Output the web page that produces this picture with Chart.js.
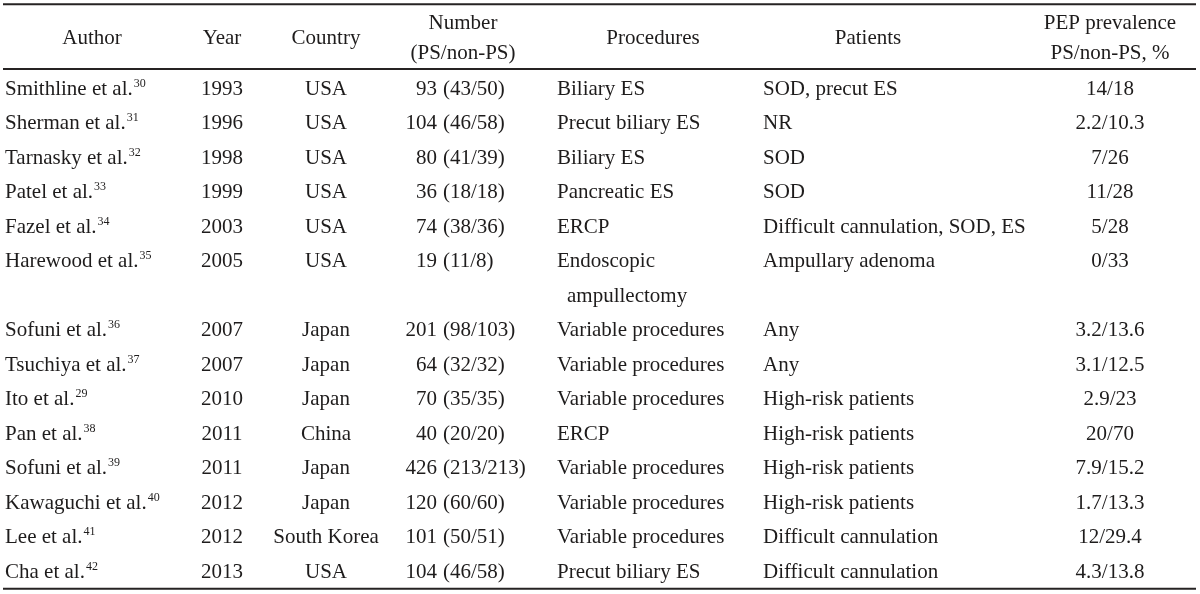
<!DOCTYPE html>
<html>
<head>
<meta charset="utf-8">
<script src="https://cdn.jsdelivr.net/npm/chart.js@4.4.0/dist/chart.umd.min.js"></script>
<style>
  html, body { margin: 0; padding: 0; background: #fff; }
  #wrap { width: 1200px; height: 594px; }
</style>
</head>
<body>
<div id="wrap"><canvas id="tbl" width="1200" height="594"></canvas></div>
<script>
// table content
const authors = ["Smithline et al.", "Sherman et al.", "Tarnasky et al.", "Patel et al.", "Fazel et al.",
  "Harewood et al.", "Sofuni et al.", "Tsuchiya et al.", "Ito et al.", "Pan et al.", "Sofuni et al.",
  "Kawaguchi et al.", "Lee et al.", "Cha et al."];
const refs = ["30", "31", "32", "33", "34", "35", "36", "37", "29", "38", "39", "40", "41", "42"];
const years = ["1993", "1996", "1998", "1999", "2003", "2005", "2007", "2007", "2010", "2011", "2011", "2012", "2012", "2013"];
const countries = ["USA", "USA", "USA", "USA", "USA", "USA", "Japan", "Japan", "Japan", "China", "Japan", "Japan", "South Korea", "USA"];
const numbers = ["93 (43/50)", "104 (46/58)", "80 (41/39)", "36 (18/18)", "74 (38/36)", "19 (11/8)",
  "201 (98/103)", "64 (32/32)", "70 (35/35)", "40 (20/20)", "426 (213/213)", "120 (60/60)", "101 (50/51)", "104 (46/58)"];
const procedures = ["Biliary ES", "Precut biliary ES", "Biliary ES", "Pancreatic ES", "ERCP",
  "Endoscopic\nampullectomy", "Variable procedures", "Variable procedures", "Variable procedures", "ERCP",
  "Variable procedures", "Variable procedures", "Variable procedures", "Precut biliary ES"];
const patients = ["SOD, precut ES", "NR", "SOD", "SOD", "Difficult cannulation, SOD, ES", "Ampullary adenoma",
  "Any", "Any", "High-risk patients", "High-risk patients", "High-risk patients", "High-risk patients",
  "Difficult cannulation", "Difficult cannulation"];
const prevalence = ["14/18", "2.2/10.3", "7/26", "11/28", "5/28", "0/33", "3.2/13.6", "3.1/12.5", "2.9/23",
  "20/70", "7.9/15.2", "1.7/13.3", "12/29.4", "4.3/13.8"];
const headers = [["Author"], ["Year"], ["Country"], ["Number", "(PS/non-PS)"], ["Procedures"], ["Patients"],
  ["PEP prevalence", "PS/non-PS, %"]];

// layout (x in px, y in text-line slots)
const FONT = '"Liberation Serif", "DejaVu Serif", serif';
const INK = '#1e1c1c';
const cols = [
  { x: 5, align: 'left', head: 92 },
  { x: 222, align: 'center', head: 222 },
  { x: 326, align: 'center', head: 326 },
  { x: 440, align: 'split', head: 463 },
  { x: 557, align: 'left', head: 653 },
  { x: 763, align: 'left', head: 868 },
  { x: 1110, align: 'center', head: 1110 }
];
const headLineY = [-1.9, -1.04];
const headMidY = -1.47;
const rules = [-2.43, -0.55, 14.52];

// each row's slot, skipping extra lines for wrapped cells
const slots = [];
let s = 0;
procedures.forEach((p) => { slots.push(s); s += p.split('\n').length; });

const columns = [authors, years, countries, numbers, procedures, patients, prevalence];

const datasets = [];
columns.forEach((vals, ci) => {
  datasets.push({
    type: 'scatter',
    cell: cols[ci].align,
    data: vals.map((v, i) => ({ x: cols[ci].x, y: slots[i], text: v, sup: ci === 0 ? refs[i] : null })),
    pointRadius: 0
  });
});
headers.forEach((h, ci) => {
  datasets.push({
    type: 'scatter',
    cell: 'center',
    data: h.map((t, k) => ({ x: cols[ci].head, y: h.length === 1 ? headMidY : headLineY[k], text: t })),
    pointRadius: 0
  });
});
rules.forEach((r) => {
  datasets.push({
    type: 'line',
    data: [{ x: 3, y: r }, { x: 1196, y: r }],
    borderColor: '#262323',
    borderWidth: 2,
    pointRadius: 0
  });
});

const cellText = {
  id: 'cellText',
  afterDatasetsDraw(chart) {
    const ctx = chart.ctx;
    const ys = chart.scales.y;
    ctx.save();
    ctx.fillStyle = INK;
    ctx.textBaseline = 'alphabetic';
    chart.data.datasets.forEach((ds, di) => {
      if (!ds.cell) return;
      const meta = chart.getDatasetMeta(di);
      meta.data.forEach((pt, i) => {
        const raw = ds.data[i];
        const lines = raw.text.split('\n');
        lines.forEach((line, k) => {
          const py = ys.getPixelForValue(raw.y + k) + 7;
          ctx.font = '21px ' + FONT;
          if (ds.cell === 'split') {
            const cut = line.indexOf(' (');
            ctx.textAlign = 'right';
            ctx.fillText(line.slice(0, cut), pt.x - 3, py);
            ctx.textAlign = 'left';
            ctx.fillText(line.slice(cut + 1), pt.x + 3, py);
          } else if (ds.cell === 'left') {
            ctx.textAlign = 'left';
            const px = pt.x + (k > 0 ? 10 : 0);
            ctx.fillText(line, px, py);
            if (raw.sup) {
              const w = ctx.measureText(line).width;
              ctx.font = '12px ' + FONT;
              ctx.fillText(raw.sup, px + w + 1, py - 8);
            }
          } else {
            ctx.textAlign = 'center';
            ctx.fillText(line, pt.x, py);
          }
        });
      });
    });
    ctx.restore();
  }
};

new Chart(document.getElementById('tbl'), {
  type: 'scatter',
  data: { datasets: datasets },
  options: {
    responsive: false,
    animation: false,
    devicePixelRatio: 1,
    layout: { padding: 0 },
    plugins: { legend: { display: false }, tooltip: { enabled: false } },
    scales: {
      x: { type: 'linear', min: 0, max: 1200, display: false },
      y: { type: 'linear', min: -2.55, max: 14.67, reverse: true, display: false }
    }
  },
  plugins: [cellText]
});
</script>
</body>
</html>
